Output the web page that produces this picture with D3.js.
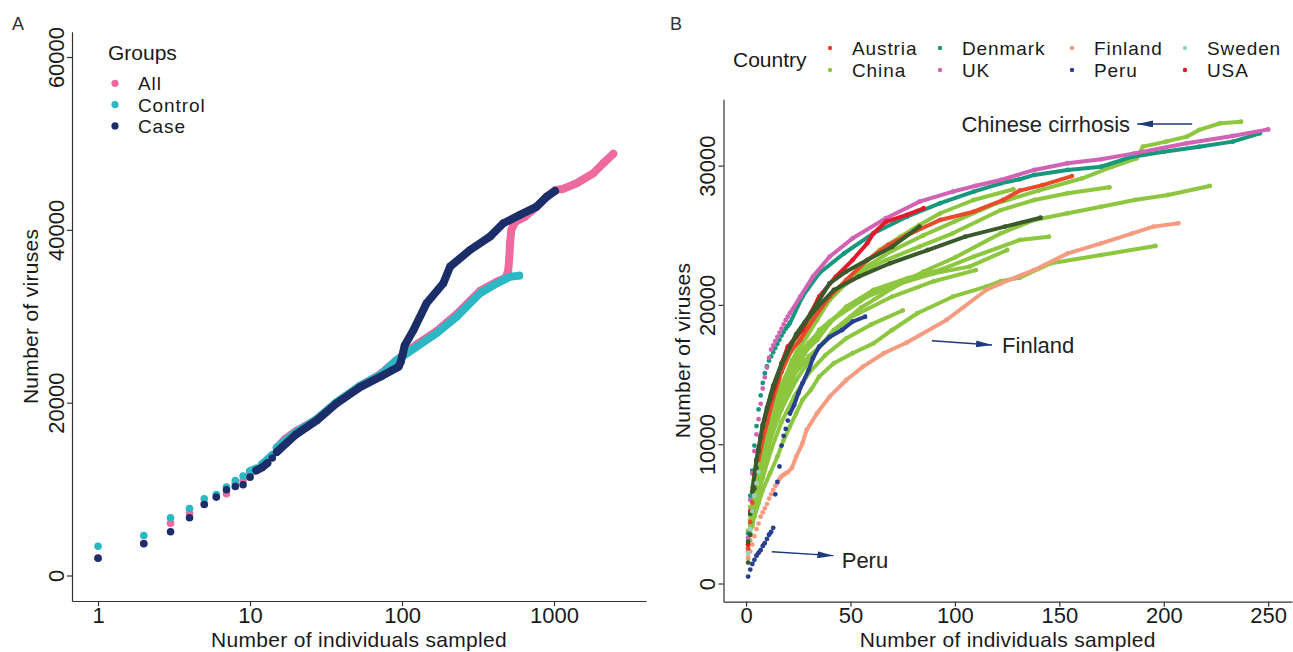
<!DOCTYPE html>
<html>
<head>
<meta charset="utf-8">
<script src="https://cdn.jsdelivr.net/npm/d3@7"></script>
<style>
    html, body { margin: 0; padding: 0; background: #fff; }
    svg { display: block; font-family: "Liberation Sans", Arial, sans-serif; }
</style>
</head>
<body>
<div class="chart-container"></div>
<script>
// ---------- Panel A : [individuals sampled, cumulative number of viruses] ----------
const groupNames = ['All', 'Control', 'Case'];
const allPoints = [
    [1, 2050], [2, 3720], [3, 6060], [4, 7210], [5, 8300], [6, 9100], [7, 9460], [8, 10650],
    [9, 11000], [10, 11900], [11, 12250], [12, 12750], [13, 13300], [14, 13950], [15, 14750],
    [17, 15800], [20, 16700], [23, 17300], [27.5, 18100], [37, 20000], [53, 21950], [72, 23300],
    [92, 24900], [125, 26750], [169, 28300], [229, 30250], [326, 32950], [420, 34000], [480, 34450],
    [500, 35300], [508, 36800], [514, 38500], [524, 40000], [555, 40900], [640, 41500], [760, 42600],
    [880, 43700], [1016, 44600], [1151, 44750], [1410, 45390], [1815, 46550], [2110, 47710], [2455, 48800]
];
const controlPoints = [
    [1, 3390], [2, 4630], [3, 6680], [4, 7760], [5, 8880], [6, 9380], [7, 10230], [8, 11000],
    [9, 11500], [10, 12080], [11, 12390], [12, 12900], [13, 13400], [14, 13950], [15, 14800],
    [20, 16550], [27.5, 18100], [37, 20050], [53, 21950], [72, 23200], [92, 24900], [125, 26480],
    [169, 28030], [229, 29950], [326, 32660], [420, 33800], [513, 34580], [590, 34700]
];
const casePoints = [
    [1, 2000], [2, 3670], [3, 5060], [4, 6680], [5, 8220], [6, 9070], [7, 9920], [8, 10300],
    [9, 10500], [10, 11380], [11, 12160], [12, 12500], [13, 13000], [14, 13600], [15, 14300],
    [20, 16300], [27.5, 17950], [37, 19900], [53, 21800], [72, 23000], [95, 24170], [98, 24700],
    [101, 25600], [104, 26600], [119, 28410], [145, 31500], [187, 33820], [207, 35740], [280, 37670],
    [379, 39210], [464, 40760], [597, 41730], [769, 42690], [896, 43840], [1016, 44500]
];
const xTicksA = [1, 10, 100, 1000];
const yTicksA = [0, 20000, 40000, 60000];

// ---------- Panel B : [individuals sampled, cumulative number of viruses] ----------
const countries = ['Austria', 'China', 'Denmark', 'UK', 'Finland', 'Peru', 'Sweden', 'USA'];
const ukPoints = [
    [1, 3300], [2, 6000], [3, 7900], [4, 9500], [5, 10700], [6, 11800], [7, 12900], [8, 14000],
    [9, 14800], [10, 15500], [11, 16200], [12, 16800], [13, 17100], [14, 17400], [15, 17700],
    [16, 18000], [17, 18300], [18, 18600], [19, 18900], [20, 19150], [21, 19400],
    [26, 20600], [32, 22030], [40, 23460], [51, 24780], [67, 26220], [83, 27410], [99, 28130],
    [110, 28550], [122, 28970], [138, 29690], [154, 30170], [170, 30450], [186, 30880], [211, 31600],
    [233, 32130], [250, 32600]
];
const denmarkPoints = [
    [1, 3600], [2, 6300], [3, 8100], [4, 9900], [5, 11300], [6, 12500], [7, 13500], [8, 14400],
    [9, 15100], [10, 15600], [11, 16000], [12, 16300], [13, 16600], [14, 16900], [15, 17200],
    [16, 17500], [17, 17800], [18, 18050], [19, 18300], [20, 18500], [21, 18700],
    [27, 20590], [35, 22270], [47, 23710], [61, 25140], [77, 26330], [93, 27300], [109, 28130],
    [122, 28730], [131, 29020], [138, 29330], [154, 29690], [170, 29920], [185, 30640], [200, 31000],
    [217, 31360], [233, 31720], [246, 32320]
];
const usaPoints = [
    [1, 2800], [2, 5200], [3, 6600], [4, 7800], [5, 8800], [6, 9700], [7, 10500], [8, 11200],
    [9, 11800], [10, 12400], [12, 13300], [15, 14700], [17, 15800], [20, 17000], [24, 17700],
    [27, 18200], [31, 19400], [35, 20590], [43, 22030], [51, 23220], [58, 24420], [61, 25140],
    [67, 25970], [77, 26460], [85, 26940]
];
const austriaPoints = [
    [1, 2500], [2, 4400], [3, 5800], [4, 7000], [5, 8000], [6, 8900], [8, 10300], [10, 11500],
    [13, 13300], [17, 15200], [21, 16600], [26, 17480], [32, 18920], [40, 20590], [48, 21790],
    [58, 23220], [68, 24300], [77, 25000], [93, 26100], [109, 26690], [123, 27530], [131, 28200],
    [142, 28600], [156, 29250]
];
const finlandPoints = [
    [1, 1900], [2, 2300], [3, 2800], [4, 3400], [5, 3900], [6, 4300], [7, 4800], [8, 5100],
    [9, 5400], [10, 5700], [11, 6100], [12, 6400], [13, 6700], [14, 7000], [15, 7200], [16, 7500],
    [17, 7700], [18, 7800], [19, 7900], [20, 8000], [22, 8300], [24, 9100], [27, 10060], [29, 11020],
    [34, 12220], [40, 13410], [48, 14610], [56, 15570], [66, 16530], [77, 17300], [96, 18920],
    [115, 21070], [122, 21550], [138, 22510], [154, 23700], [170, 24420], [185, 25140], [195, 25620],
    [207, 25860]
];
const peruPoints = [
    [1, 500], [2, 1000], [3, 1400], [4, 1700], [5, 2000], [6, 2200], [7, 2400], [8, 2700],
    [9, 2900], [10, 3200], [11, 3500], [12, 3700], [13, 4000], [14, 6400], [15, 7300], [16, 8400],
    [17, 9900], [18, 10600], [19, 11100], [20, 11700], [21, 12200], [23, 12800], [25, 13650],
    [27, 14370], [30, 15330], [32, 16170], [35, 17000], [40, 17700], [46, 18200], [51, 18800], [57, 19150]
];
const swedenPoints = [[1, 2200], [2, 3900], [3, 5200], [4, 6300], [5, 7200], [6, 8000]];
const darkLongPoints = [
    [1, 1500], [2, 3500], [3, 5200], [4, 6800], [5, 8300], [6, 9500], [7, 10500], [8, 11300],
    [10, 12600], [13, 14200], [17, 15800], [22, 17300], [28, 18700], [34, 19800], [42, 21070],
    [54, 22030], [69, 22990], [87, 23940], [105, 24900], [124, 25620], [141, 26260]
];
const darkShortPoints = [
    [1, 3000], [2, 5000], [3, 6600], [5, 8900], [8, 11400], [12, 13600], [17, 15700], [24, 17900],
    [32, 19600], [40, 21550], [48, 22400], [58, 23220], [70, 24180], [83, 25620]
];
// China cohorts
const chinaCirrhosis = [
    [1, 3800], [2, 5500], [3, 6900], [5, 8800], [8, 10900], [12, 13000], [17, 15200], [24, 17400],
    [32, 19200], [42, 20900], [55, 22500], [70, 23900], [85, 25000], [100, 26000], [120, 27300],
    [140, 28200], [161, 29090], [175, 29900], [187, 30520], [190, 31360], [201, 31720], [211, 32080],
    [217, 32560], [227, 33040], [237, 33150]
];
const china2 = [
    [1, 3000], [2, 4600], [3, 5900], [5, 7800], [8, 9900], [12, 12000], [17, 14200], [24, 16600],
    [33, 18800], [43, 21070], [51, 22030], [67, 23220], [83, 24180], [99, 25140], [122, 26810],
    [138, 27530], [154, 28010], [174, 28440]
];
const china3 = [
    [1, 2600], [2, 4200], [3, 5400], [5, 7300], [8, 9500], [12, 11800], [17, 14100], [22, 16000],
    [29, 17720], [34, 18920], [40, 20350], [48, 21550], [55, 22750], [64, 23940], [74, 24900],
    [83, 25740], [93, 26580], [109, 27530], [128, 28300]
];
const china4 = [
    [1, 2200], [2, 3500], [3, 4600], [5, 6400], [8, 8400], [12, 10500], [17, 12500], [24, 14600],
    [32, 16400], [42, 18200], [55, 19800], [70, 21200], [85, 22400], [100, 23400], [122, 25140],
    [138, 26100], [154, 26580], [170, 27050], [186, 27530], [202, 27890], [222, 28540]
];
const china5 = [
    [2, 3840], [3, 4500], [4, 4800], [6, 5760], [8, 6710], [11.5, 7910], [15, 9100], [18, 10300],
    [21, 11260], [24, 12220], [27, 13170], [31, 13890], [35, 14850], [42, 15810], [51, 16530],
    [61, 17240], [70, 18200], [82, 19400], [99, 20590], [115, 21310], [122, 21700], [131, 21950],
    [146, 22990], [170, 23580], [196, 24230]
];
const china6 = [
    [1, 2400], [2, 3900], [3, 5100], [5, 7000], [8, 9200], [12, 11400], [17, 13600], [22, 15300],
    [28, 16600], [34, 17480], [40, 18680], [48, 19870], [61, 21070], [77, 21910], [93, 22510],
    [109, 23460], [131, 24660], [145, 24900]
];
const china7 = [
    [1, 2300], [2, 3600], [3, 4700], [5, 6500], [8, 8500], [12, 10600], [17, 12800], [22, 14600],
    [28, 16500], [35, 18200], [45, 19400], [58, 20590], [74, 21550], [90, 22270], [107, 22750], [125, 23940]
];
const china8 = [
    [1, 2800], [2, 4200], [3, 5300], [5, 7000], [8, 9000], [12, 11000], [17, 13000], [23, 15000],
    [30, 16300], [36, 17100], [50, 19100], [70, 20600], [90, 21700], [110, 22500]
];
const china9 = [
    [1, 1800], [2, 3100], [3, 4100], [5, 5800], [8, 7600], [12, 9600], [17, 11600], [23, 13400],
    [30, 15100], [38, 16400], [48, 17600], [60, 18600], [75, 19600]
];
const china10 = [
    [1, 3200], [2, 4900], [3, 6200], [5, 8100], [8, 10200], [12, 12300], [17, 14300], [23, 16000],
    [30, 17300], [40, 18800], [55, 20300]
];
const xTicksB = [0, 50, 100, 150, 200, 250];
const yTicksB = [0, 10000, 20000, 30000];

// text labels with arrows, in data units (individuals, viruses)
const annotations = [
    { label: 'Chinese cirrhosis', from: [213.6, 32990], to: [187.3, 32990], at: [183.9, 32990], anchor: 'end' },
    { label: 'Finland', from: [89, 17430], to: [117.8, 17120], at: [122.6, 17120], anchor: 'start' },
    { label: 'Peru', from: [12.3, 2280], to: [41.8, 2000], at: [45.8, 1690], anchor: 'start' }
];

(function(){
    const svg_width = 1293;
    const svg_height = 652;
    const textColor = '#1a1a1a';
    const axisColor = '#333';
    const fontSize = 22;      // tick labels, annotations
    const titleSize = 21;     // axis titles
    const legendSize = 19;    // legend entries

    const groupColors = { All: '#ee6a9e', Control: '#2bb7c3', Case: '#1c2e69' };
    const countryColors = {
        Austria: '#ea4a2c', China: '#8dc63f', Denmark: '#17977e', UK: '#d262b4',
        Finland: '#f59c80', Peru: '#273f8f', Sweden: '#93d3c3', USA: '#e3192b',
        ChinaDark: '#3b5a2c'
    };

    const svg = d3.select('.chart-container').append('svg')
        .attr('width', svg_width).attr('height', svg_height);

    // 把連續的點分成線段: 稀疏讀值一定相連, 相鄰整數點太遠就只畫點
    function splitRuns(pts, x, y, gap) {
        const runs = [];
        let cur = [pts[0]];
        for (let i = 1; i < pts.length; i++) {
            const a = pts[i - 1], b = pts[i];
            const dist = Math.hypot(x(b[0]) - x(a[0]), y(b[1]) - y(a[1]));
            if (b[0] - a[0] > 1 || dist < gap) {
                cur.push(b);
            } else {
                if (cur.length > 1) runs.push(cur);
                cur = [b];
            }
        }
        if (cur.length > 1) runs.push(cur);
        return runs;
    }

    function drawSeries(g, pts, color, x, y, opt) {
        const lineGen = d3.line().x(d => x(d[0])).y(d => y(d[1]));
        const s = g.append('g').attr('class', 'series');
        s.selectAll('path').data(splitRuns(pts, x, y, opt.gap)).enter()
            .append('path')
            .attr('d', lineGen)
            .style('fill', 'none')
            .style('stroke', color)
            .style('stroke-width', opt.lw)
            .style('stroke-linecap', 'round')
            .style('stroke-linejoin', 'round');
        s.selectAll('circle').data(pts).enter()
            .append('circle')
            .attr('cx', d => x(d[0]))
            .attr('cy', d => y(d[1]))
            .attr('r', opt.r)
            .style('fill', color);
    }

    function drawAxes(x, y, xTicks, yTicks, xFormat) {
        const [x0] = x.range();
        const [y0] = y.range();

        const xAxis = d3.axisBottom(x).tickValues(xTicks).tickFormat(xFormat)
            .tickSizeInner(5).tickSizeOuter(0).tickPadding(1);
        const gx = svg.append('g').attr('class', 'x axis')
            .attr('transform', `translate(0,${y0})`)
            .call(xAxis);

        const yAxis = d3.axisLeft(y).tickValues(yTicks).tickFormat(d3.format('d'))
            .tickSizeInner(5).tickSizeOuter(0);
        const gy = svg.append('g').attr('class', 'y axis')
            .attr('transform', `translate(${x0},0)`)
            .call(yAxis);
        // y軸數字轉90度
        gy.selectAll('.tick text')
            .attr('x', 0).attr('y', -8.5).attr('dy', 0)
            .attr('transform', 'rotate(-90)')
            .style('text-anchor', 'middle');

        [gx, gy].forEach(g => {
            g.attr('font-size', fontSize).attr('font-family', null);
            g.selectAll('.domain').style('stroke', axisColor).style('stroke-width', 1.2);
            g.selectAll('.tick line').style('stroke', axisColor).style('stroke-width', 1.2);
            g.selectAll('.tick text').style('fill', textColor);
        });

        const [xa, xb] = x.range();
        const [ya, yb] = y.range();
        svg.append('text')
            .attr('x', (xa + xb) / 2).attr('y', 646.5)
            .style('text-anchor', 'middle').style('font-size', `${titleSize}px`).style('fill', textColor)
            .style('letter-spacing', '0.3px')
            .text('Number of individuals sampled');
        svg.append('text')
            .attr('transform', `translate(${x0 - 34},${(ya + yb) / 2}) rotate(-90)`)
            .style('text-anchor', 'middle').style('font-size', `${titleSize}px`).style('fill', textColor)
            .style('letter-spacing', '0.3px')
            .text('Number of viruses');
    }

    // ---------------- Panel A ----------------
    const xA = d3.scaleLog().domain([0.674, 4029]).range([72, 646]);
    const yA = d3.scaleLinear().domain([-2951, 62930]).range([601, 31.7]);
    drawAxes(xA, yA, xTicksA, yTicksA, d3.format('d'));

    const plotA = svg.append('g').attr('class', 'panel-a');
    const groupSeries = [allPoints, controlPoints, casePoints];
    groupSeries.forEach((pts, i) => {
        drawSeries(plotA, pts, groupColors[groupNames[i]], xA, yA, { r: 3.8, lw: 8, gap: 7 });
    });

    // legend A
    const legA = svg.append('g').attr('class', 'legend-a');
    legA.append('text').attr('x', 108).attr('y', 60)
        .style('font-size', `${titleSize}px`).style('fill', textColor).text('Groups');
    groupNames.forEach((name, i) => {
        const cy = 83.3 + i * 21.3;
        legA.append('circle').attr('cx', 115).attr('cy', cy).attr('r', 3.6).style('fill', groupColors[name]);
        legA.append('text').attr('x', 138).attr('y', cy + 7)
            .style('font-size', `${legendSize}px`).style('fill', textColor)
            .style('letter-spacing', '0.9px')
            .text(name);
    });

    svg.append('text').attr('x', 12).attr('y', 30)
        .style('font-size', '18px').style('fill', '#333').text('A');

    // ---------------- Panel B ----------------
    const xB = d3.scaleLinear().domain([-10.8, 261.4]).range([723.5, 1292]);
    const yB = d3.scaleLinear().domain([-1306, 34760]).range([601.7, 99.3]);
    drawAxes(xB, yB, xTicksB, yTicksB, d3.format('d'));

    const cohortSeries = [
        { key: 'China', values: china9 },
        { key: 'China', values: china5 },
        { key: 'China', values: china8 },
        { key: 'China', values: china7 },
        { key: 'China', values: china6 },
        { key: 'China', values: china4 },
        { key: 'China', values: china10 },
        { key: 'China', values: china3 },
        { key: 'China', values: china2 },
        { key: 'China', values: chinaCirrhosis },
        { key: 'Finland', values: finlandPoints },
        { key: 'Denmark', values: denmarkPoints },
        { key: 'UK', values: ukPoints },
        { key: 'Austria', values: austriaPoints },
        { key: 'USA', values: usaPoints },
        { key: 'ChinaDark', values: darkLongPoints },
        { key: 'ChinaDark', values: darkShortPoints },
        { key: 'Sweden', values: swedenPoints },
        { key: 'Peru', values: peruPoints }
    ];
    const plotB = svg.append('g').attr('class', 'panel-b');
    cohortSeries.forEach(s => {
        drawSeries(plotB, s.values, countryColors[s.key], xB, yB, { r: 2.4, lw: 4, gap: 4 });
    });

    // arrows + labels
    const defs = svg.append('defs');
    defs.append('marker')
        .attr('id', 'arrow-head')
        .attr('viewBox', '0 0 16 7')
        .attr('refX', 16).attr('refY', 3.5)
        .attr('markerWidth', 16).attr('markerHeight', 7)
        .attr('markerUnits', 'userSpaceOnUse')
        .attr('orient', 'auto')
        .append('path').attr('d', 'M0,0 L16,3.5 L0,7 Z').style('fill', '#1f3a7a');

    const annG = svg.append('g').attr('class', 'annotations');
    annotations.forEach(a => {
        annG.append('line')
            .attr('x1', xB(a.from[0])).attr('y1', yB(a.from[1]))
            .attr('x2', xB(a.to[0])).attr('y2', yB(a.to[1]))
            .style('stroke', '#1f3a7a').style('stroke-width', 1.4)
            .attr('marker-end', 'url(#arrow-head)');
        annG.append('text')
            .attr('x', xB(a.at[0])).attr('y', yB(a.at[1]))
            .attr('dy', '0.35em')
            .style('text-anchor', a.anchor)
            .style('font-size', `${fontSize}px`).style('fill', '#222')
            .text(a.label);
    });

    // legend B (兩列四欄)
    const legB = svg.append('g').attr('class', 'legend-b');
    legB.append('text').attr('x', 733).attr('y', 67)
        .style('font-size', `${titleSize}px`).style('fill', textColor).text('Country');
    const colDot = [830, 940, 1072, 1185];
    countries.forEach((name, i) => {
        const col = Math.floor(i / 2);
        const cy = i % 2 === 0 ? 48 : 70;
        legB.append('circle').attr('cx', colDot[col]).attr('cy', cy).attr('r', 2.2)
            .style('fill', countryColors[name]);
        legB.append('text').attr('x', colDot[col] + 22).attr('y', cy + 7)
            .style('font-size', `${legendSize}px`).style('fill', textColor)
            .style('letter-spacing', '0.9px')
            .text(name);
    });

    svg.append('text').attr('x', 670).attr('y', 30)
        .style('font-size', '18px').style('fill', '#333').text('B');
})();
</script>
</body>
</html>
